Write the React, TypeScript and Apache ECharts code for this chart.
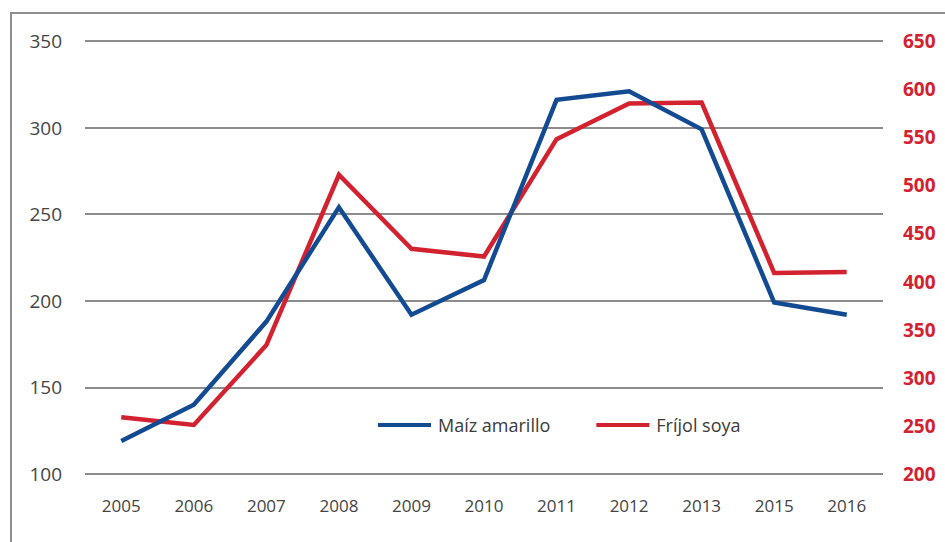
import React, { useEffect, useRef } from "react";
import * as echarts from "echarts";

const years = ["2005", "2006", "2007", "2008", "2009", "2010", "2011", "2012", "2013", "2015", "2016"];
const maizAmarillo = [119, 140, 188, 254, 192, 212, 316, 321, 299, 199, 192];
const frijolSoya = [259, 251, 334, 511, 434, 426, 548, 585, 586, 409, 410];
const leftTicks = { min: 100, max: 350, interval: 50 };
const rightTicks = { min: 200, max: 650, interval: 50 };

const BLUE = "#134b93";
const RED = "#d3222f";
const FONT = "'Open Sans', 'Noto Sans', sans-serif";

export default function App() {
  const ref = useRef<HTMLDivElement>(null);
  useEffect(() => {
    if (!ref.current) return;
    const chart = echarts.init(ref.current, null, { renderer: "svg" });
    chart.setOption({
      animation: false,
      backgroundColor: "#ffffff",
      textStyle: { fontFamily: FONT },
      grid: { left: 85, right: 62, top: 41, bottom: 68 },
      legend: {
        left: 378,
        top: 416,
        padding: 0,
        itemWidth: 53,
        itemHeight: 4,
        itemGap: 46,
        icon: "rect",
        textStyle: { fontFamily: FONT, fontSize: 18, color: "#3a3a3a", padding: [0, 0, 0, 2] },
        data: [
          { name: "Maíz amarillo", itemStyle: { color: BLUE } },
          { name: "Fríjol soya", itemStyle: { color: RED } },
        ],
      },
      xAxis: {
        type: "category",
        data: years,
        boundaryGap: true,
        axisLine: { show: false },
        axisTick: { show: false },
        axisLabel: { color: "#444444", fontSize: 17, margin: 23, fontFamily: FONT },
      },
      yAxis: [
        {
          type: "value",
          min: leftTicks.min,
          max: leftTicks.max,
          interval: leftTicks.interval,
          axisLine: { show: false },
          axisTick: { show: false },
          axisLabel: { color: "#444444", fontSize: 19, margin: 23, fontFamily: FONT },
          splitLine: { show: true, lineStyle: { color: "#8c8c8c", width: 2 } },
        },
        {
          type: "value",
          position: "right",
          min: rightTicks.min,
          max: rightTicks.max,
          interval: rightTicks.interval,
          axisLine: { show: false },
          axisTick: { show: false },
          axisLabel: { color: RED, fontSize: 19, fontWeight: "bold", margin: 20, fontFamily: FONT },
          splitLine: { show: false },
        },
      ],
      series: [
        {
          name: "Maíz amarillo",
          type: "line",
          yAxisIndex: 0,
          data: maizAmarillo,
          symbol: "none",
          lineStyle: { color: BLUE, width: 4.5, join: "miter" },
          itemStyle: { color: BLUE },
          z: 3,
        },
        {
          name: "Fríjol soya",
          type: "line",
          yAxisIndex: 1,
          data: frijolSoya,
          symbol: "none",
          lineStyle: { color: RED, width: 4.5, join: "miter" },
          itemStyle: { color: RED },
          z: 2,
        },
      ],
      graphic: [
        {
          type: "polyline",
          silent: true,
          shape: { points: [[11, 542], [11, 13], [945, 13]] },
          style: { stroke: "#8f8f8f", lineWidth: 2, fill: "none" },
        },
      ],
    });
    return () => chart.dispose();
  }, []);
  return <div ref={ref} style={{ width: 945, height: 542, position: "absolute", left: 0, top: 0 }} />;
}
